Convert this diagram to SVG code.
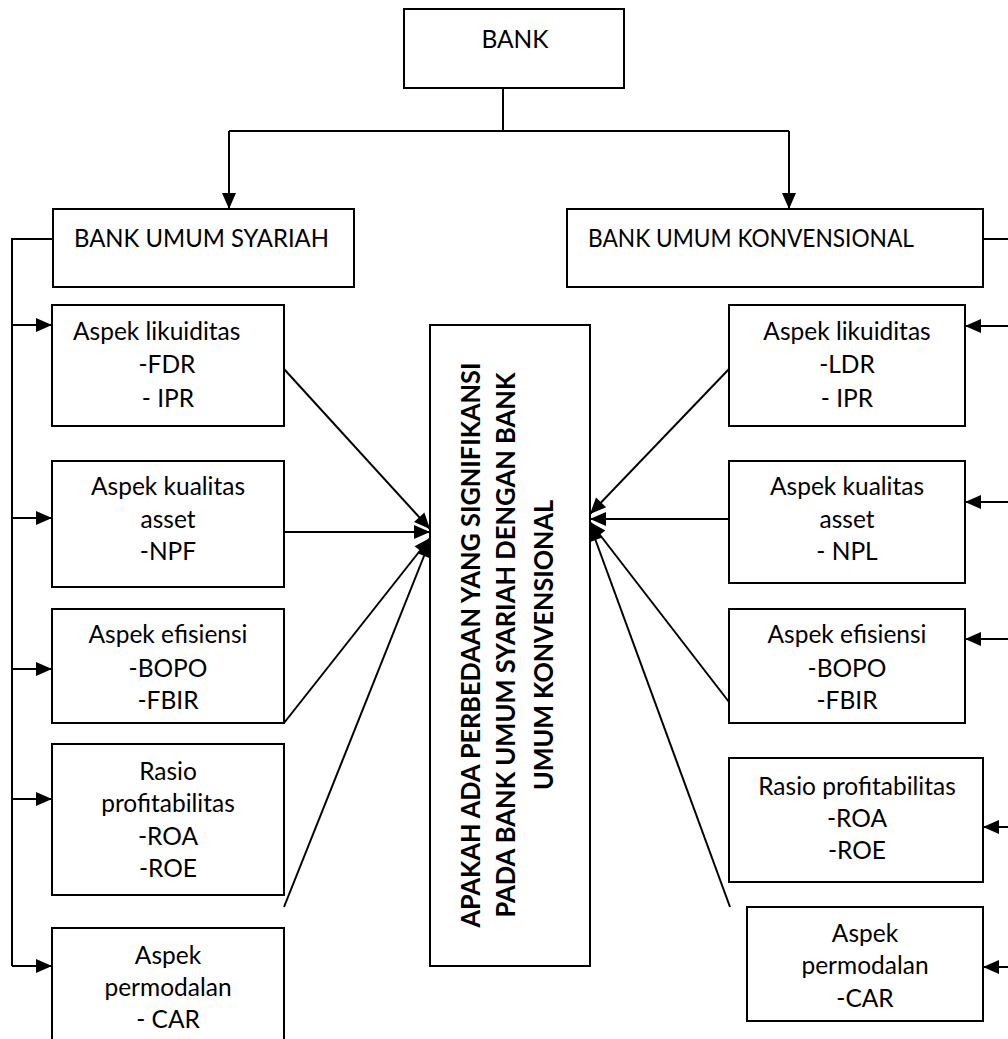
<svg xmlns="http://www.w3.org/2000/svg" width="1008" height="1039" viewBox="0 0 1008 1039">
<style>
.box{fill:#fff;stroke:#000;stroke-width:2}
.t{font-family:Lato,"Liberation Sans",sans-serif;font-size:24.5px;fill:#000}
.c{text-anchor:middle}
.b{font-family:Lato,"Liberation Sans",sans-serif;font-size:27px;font-weight:700;fill:#000;text-anchor:middle}
.ln{fill:none;stroke:#000;stroke-width:2}
</style>
<defs>
<marker id="ah" markerUnits="userSpaceOnUse" markerWidth="16" markerHeight="14" refX="16" refY="7" orient="auto" overflow="visible">
<path d="M0,0 L16,7 L0,14 z" fill="#000"/>
</marker>
</defs>
<rect width="1008" height="1039" fill="#fff"/>
<g id="connectors">
<path class="ln" d="M503,88 V131 M229,131 H789"/>
<path class="ln" d="M229,131 V209" marker-end="url(#ah)"/>
<path class="ln" d="M789,131 V209" marker-end="url(#ah)"/>
<path class="ln" d="M53,239 H12 V966"/>
<path class="ln" d="M12,325 H52" marker-end="url(#ah)"/>
<path class="ln" d="M12,518 H52" marker-end="url(#ah)"/>
<path class="ln" d="M12,669 H52" marker-end="url(#ah)"/>
<path class="ln" d="M12,799 H52" marker-end="url(#ah)"/>
<path class="ln" d="M12,966 H52" marker-end="url(#ah)"/>
<path class="ln" d="M983,239 H1008"/>
<path class="ln" d="M1008,326 H965" marker-end="url(#ah)"/>
<path class="ln" d="M1008,502 H965" marker-end="url(#ah)"/>
<path class="ln" d="M1008,639 H965" marker-end="url(#ah)"/>
<path class="ln" d="M1008,827 H983" marker-end="url(#ah)"/>
<path class="ln" d="M1008,967 H983" marker-end="url(#ah)"/>
<path class="ln" d="M284,369 L430,529" marker-end="url(#ah)"/>
<path class="ln" d="M284,532 L430,532" marker-end="url(#ah)"/>
<path class="ln" d="M284,723 L430,538" marker-end="url(#ah)"/>
<path class="ln" d="M284,907 L430,541" marker-end="url(#ah)"/>
<path class="ln" d="M729,369 L590,514" marker-end="url(#ah)"/>
<path class="ln" d="M729,519 L590,519" marker-end="url(#ah)"/>
<path class="ln" d="M729,702 L590,522" marker-end="url(#ah)"/>
<path class="ln" d="M730,907 L590,525" marker-end="url(#ah)"/>
</g>
<g id="bank">
<rect class="box" x="404" y="9" width="220" height="79"/>
<text class="t c" x="515" y="48">BANK</text>
</g>
<g id="bus">
<rect class="box" x="53" y="209" width="301" height="78"/>
<text class="t" x="74" y="247" textLength="255" lengthAdjust="spacingAndGlyphs">BANK UMUM SYARIAH</text>
</g>
<g id="buk">
<rect class="box" x="567" y="209" width="416" height="78"/>
<text class="t" x="588" y="247" textLength="326" lengthAdjust="spacingAndGlyphs">BANK UMUM KONVENSIONAL</text>
</g>
<g id="center">
<rect class="box" x="430" y="325" width="160" height="641"/>
<text class="b" transform="translate(480,645) rotate(-90)" textLength="565" lengthAdjust="spacingAndGlyphs">APAKAH ADA PERBEDAAN YANG SIGNIFIKANSI</text>
<text class="b" transform="translate(515,645) rotate(-90)" textLength="545" lengthAdjust="spacingAndGlyphs">PADA BANK UMUM SYARIAH DENGAN BANK</text>
<text class="b" transform="translate(553,645) rotate(-90)" textLength="290" lengthAdjust="spacingAndGlyphs">UMUM KONVENSIONAL</text>
</g>
<g id="l1">
<rect class="box" x="52" y="305" width="232" height="121"/>
<text class="t" x="73" y="340">Aspek likuiditas</text>
<text class="t c" x="167" y="373">-FDR</text>
<text class="t c" x="168" y="407">- IPR</text>
</g>
<g id="l2">
<rect class="box" x="52" y="461" width="232" height="126"/>
<text class="t c" x="168" y="495">Aspek kualitas</text>
<text class="t c" x="168" y="528">asset</text>
<text class="t c" x="168" y="560">-NPF</text>
</g>
<g id="l3">
<rect class="box" x="52" y="609" width="232" height="114"/>
<text class="t c" x="168" y="643">Aspek efisiensi</text>
<text class="t c" x="168" y="677">-BOPO</text>
<text class="t c" x="168" y="709">-FBIR</text>
</g>
<g id="l4">
<rect class="box" x="52" y="744" width="232" height="151"/>
<text class="t c" x="168" y="780">Rasio</text>
<text class="t c" x="168" y="812">profitabilitas</text>
<text class="t c" x="168" y="845">-ROA</text>
<text class="t c" x="168" y="877">-ROE</text>
</g>
<g id="l5">
<rect class="box" x="52" y="928" width="232" height="120"/>
<text class="t c" x="168" y="964">Aspek</text>
<text class="t c" x="168" y="996">permodalan</text>
<text class="t c" x="168" y="1028">- CAR</text>
</g>
<g id="r1">
<rect class="box" x="729" y="305" width="236" height="121"/>
<text class="t c" x="847" y="340">Aspek likuiditas</text>
<text class="t c" x="847" y="373">-LDR</text>
<text class="t c" x="847" y="407">- IPR</text>
</g>
<g id="r2">
<rect class="box" x="729" y="461" width="236" height="122"/>
<text class="t c" x="847" y="495">Aspek kualitas</text>
<text class="t c" x="847" y="528">asset</text>
<text class="t c" x="847" y="560">- NPL</text>
</g>
<g id="r3">
<rect class="box" x="729" y="609" width="236" height="114"/>
<text class="t c" x="847" y="643">Aspek efisiensi</text>
<text class="t c" x="847" y="677">-BOPO</text>
<text class="t c" x="847" y="709">-FBIR</text>
</g>
<g id="r4">
<rect class="box" x="729" y="758" width="254" height="124"/>
<text class="t c" x="857" y="795">Rasio profitabilitas</text>
<text class="t c" x="857" y="827">-ROA</text>
<text class="t c" x="857" y="859">-ROE</text>
</g>
<g id="r5">
<rect class="box" x="747" y="907" width="236" height="114"/>
<text class="t c" x="865" y="942">Aspek</text>
<text class="t c" x="865" y="974">permodalan</text>
<text class="t c" x="865" y="1007">-CAR</text>
</g>
</svg>
